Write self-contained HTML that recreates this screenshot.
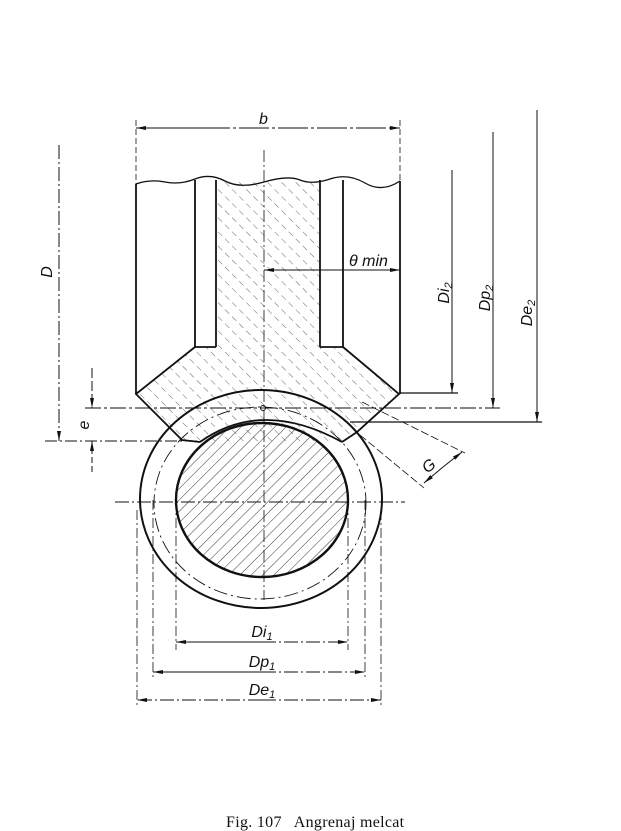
<!DOCTYPE html>
<html><head><meta charset="utf-8"><style>
html,body{margin:0;padding:0;background:#fff;}
svg{display:block;}
text{font-family:"Liberation Sans",sans-serif;font-style:italic;fill:#111;}
</style></head><body>
<svg width="621" height="831" viewBox="0 0 621 831" xmlns="http://www.w3.org/2000/svg">
<defs>
<pattern id="h1" width="10" height="10" patternUnits="userSpaceOnUse" patternTransform="rotate(-45)">
<line x1="0" y1="0" x2="0" y2="10" stroke="#555" stroke-width="0.9" stroke-dasharray="4 4"/></pattern>
<pattern id="h2" width="8" height="8" patternUnits="userSpaceOnUse" patternTransform="rotate(45)">
<line x1="0" y1="0" x2="0" y2="8" stroke="#222" stroke-width="0.9" stroke-dasharray="14 2"/></pattern>
<marker id="a" markerWidth="10" markerHeight="6" refX="10" refY="3" orient="auto" markerUnits="userSpaceOnUse">
<path d="M0,1 L10,3 L0,5 z" fill="#111"/></marker>
</defs>
<g stroke="#111" fill="none">
<!-- wheel hatched region -->
<path d="M216,180 L320,180 L320,347 L343,347 L398,394 L357,432 L342,442 L200,442 L182,440 L136,394 L195,347 L216,347 Z" fill="url(#h1)" stroke="none"/>
<!-- wavy top -->
<path d="M136,184 Q150,179 165,182 T195,179 T225,181 T264,182 T300,180 T330,179 T365,183 T400,181" stroke-width="1.3"/>
<line x1="195" y1="180" x2="195" y2="347" stroke-width="1.8"/>
<line x1="216" y1="180" x2="216" y2="347" stroke-width="1.8"/>
<line x1="320" y1="180" x2="320" y2="347" stroke-width="1.8"/>
<line x1="343" y1="180" x2="343" y2="347" stroke-width="1.8"/>
<line x1="195" y1="347" x2="216" y2="347" stroke-width="1.8"/>
<line x1="320" y1="347" x2="343" y2="347" stroke-width="1.8"/>
<line x1="136" y1="184" x2="136" y2="394" stroke-width="1.8"/>
<line x1="400" y1="181" x2="400" y2="394" stroke-width="1.8"/>
<path d="M195,347 L136,394 L182,440 L200,442" stroke-width="1.8"/>
<path d="M343,347 L399,394 L357,432 L342,442" stroke-width="1.8"/>
<path d="M200,442 Q262,398 342,442" stroke-width="1.8"/>
<!-- worm -->
<ellipse cx="261" cy="499" rx="121" ry="109" stroke-width="2"/>
<ellipse cx="262" cy="500" rx="86" ry="77" fill="url(#h2)" stroke-width="2.4"/>
<ellipse cx="260" cy="503" rx="106" ry="96" stroke-width="0.9" stroke-dasharray="14 4 2 4"/>
<circle cx="263" cy="408" r="2.5" stroke-width="1" fill="#fff"/>
<!-- centre lines -->
<line x1="264" y1="150" x2="264" y2="600" stroke-width="0.8" stroke-dasharray="12 3 2 3"/>
<line x1="115" y1="502" x2="405" y2="502" stroke-width="0.9" stroke-dasharray="14 3 2 3"/>
<!-- horizontal reference lines -->
<line x1="400" y1="393" x2="458" y2="393" stroke-width="1.2"/>
<line x1="85" y1="408" x2="500" y2="408" stroke-width="1" stroke-dasharray="16 3 3 3"/>
<line x1="350" y1="422" x2="542" y2="422" stroke-width="1.2"/>
<line x1="45" y1="441" x2="200" y2="441" stroke-width="1" stroke-dasharray="12 3 2 3"/>
<!-- vertical dims -->
<line x1="452" y1="170" x2="452" y2="393" stroke-width="1" marker-end="url(#a)"/>
<line x1="493" y1="132" x2="493" y2="408" stroke-width="1" marker-end="url(#a)"/>
<line x1="537" y1="110" x2="537" y2="422" stroke-width="1" marker-end="url(#a)"/>
<line x1="59" y1="145" x2="59" y2="441" stroke-width="1" stroke-dasharray="14 3 2 3" marker-end="url(#a)"/>
<line x1="92" y1="368" x2="92" y2="408" stroke-width="1" stroke-dasharray="10 3" marker-end="url(#a)"/>
<line x1="92" y1="472" x2="92" y2="441" stroke-width="1" stroke-dasharray="6 3" marker-end="url(#a)"/>
<!-- b and theta -->
<line x1="136" y1="120" x2="136" y2="184" stroke-width="0.8" stroke-dasharray="6 3"/>
<line x1="400" y1="120" x2="400" y2="180" stroke-width="0.8" stroke-dasharray="6 3"/>
<line x1="200" y1="128" x2="136" y2="128" stroke-width="1" marker-end="url(#a)"/>
<line x1="200" y1="128" x2="400" y2="128" stroke-width="1" stroke-dasharray="30 3 3 3" marker-end="url(#a)"/>
<line x1="290" y1="270" x2="264" y2="270" stroke-width="1" marker-end="url(#a)"/>
<line x1="290" y1="270" x2="400" y2="270" stroke-width="1" marker-end="url(#a)"/>
<!-- G -->
<line x1="362" y1="402" x2="465" y2="453" stroke-width="0.8" stroke-dasharray="8 3"/>
<line x1="360" y1="435" x2="424" y2="488" stroke-width="0.8" stroke-dasharray="8 3"/>
<line x1="443" y1="467" x2="462" y2="452" stroke-width="1" marker-end="url(#a)"/>
<line x1="443" y1="467" x2="424" y2="483" stroke-width="1" marker-end="url(#a)"/>
<!-- bottom ext lines -->
<line x1="176" y1="500" x2="176" y2="650" stroke-width="0.8" stroke-dasharray="10 3 2 3"/>
<line x1="348" y1="500" x2="348" y2="650" stroke-width="0.8" stroke-dasharray="10 3 2 3"/>
<line x1="153" y1="500" x2="153" y2="680" stroke-width="0.8" stroke-dasharray="10 3 2 3"/>
<line x1="365" y1="500" x2="365" y2="680" stroke-width="0.8" stroke-dasharray="10 3 2 3"/>
<line x1="137" y1="510" x2="137" y2="708" stroke-width="0.8" stroke-dasharray="10 3 2 3"/>
<line x1="381" y1="510" x2="381" y2="708" stroke-width="0.8" stroke-dasharray="10 3 2 3"/>
<line x1="262" y1="642" x2="176" y2="642" stroke-width="1" marker-end="url(#a)"/>
<line x1="262" y1="642" x2="348" y2="642" stroke-width="1" stroke-dasharray="14 3 2 3" marker-end="url(#a)"/>
<line x1="262" y1="672" x2="153" y2="672" stroke-width="1" marker-end="url(#a)"/>
<line x1="262" y1="672" x2="365" y2="672" stroke-width="1" stroke-dasharray="14 3 2 3" marker-end="url(#a)"/>
<line x1="262" y1="700" x2="137" y2="700" stroke-width="1" stroke-dasharray="14 3 2 3" marker-end="url(#a)"/>
<line x1="262" y1="700" x2="381" y2="700" stroke-width="1" stroke-dasharray="14 3 2 3" marker-end="url(#a)"/>
</g>
<g font-size="16">
<text x="259" y="124">b</text>
<text x="349" y="266">θ min</text>
<text transform="translate(52,272) rotate(-90)" text-anchor="middle">D</text>
<text transform="translate(89,425) rotate(-90)" text-anchor="middle">e</text>
<text transform="translate(449,293) rotate(-90)" text-anchor="middle">Di<tspan font-size="11" dy="3">2</tspan></text>
<text transform="translate(490,298) rotate(-90)" text-anchor="middle">Dp<tspan font-size="11" dy="3">2</tspan></text>
<text transform="translate(532,313) rotate(-90)" text-anchor="middle">De<tspan font-size="11" dy="3">2</tspan></text>
<text transform="translate(432,470) rotate(-38)" text-anchor="middle" font-style="normal">G</text>
<text x="262" y="637" text-anchor="middle">Di<tspan font-size="11" dy="3">1</tspan></text>
<text x="262" y="667" text-anchor="middle">Dp<tspan font-size="11" dy="3">1</tspan></text>
<text x="262" y="695" text-anchor="middle">De<tspan font-size="11" dy="3">1</tspan></text>
</g>
<text x="226" y="827" font-size="16" style="font-family:'Liberation Serif',serif;font-style:normal;letter-spacing:0.3px" xml:space="preserve">Fig. 107   Angrenaj melcat</text>
</svg>
</body></html>
